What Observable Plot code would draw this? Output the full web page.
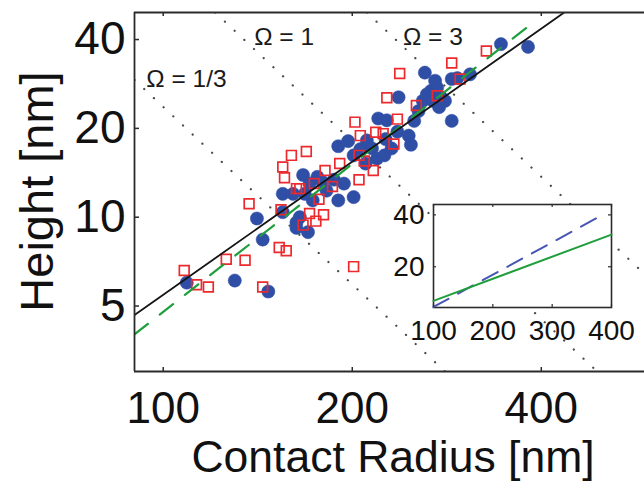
<!DOCTYPE html>
<html><head><meta charset="utf-8">
<script src="https://cdn.jsdelivr.net/npm/d3@7"></script>
<script src="https://cdn.jsdelivr.net/npm/@observablehq/plot@0.6"></script>
<style>
html,body{margin:0;padding:0;background:#fff;overflow:hidden}
#wrap{position:relative;width:644px;height:482px}
#main{position:absolute;left:0;top:0;width:644px}
#inset{position:absolute;left:382px;top:190px;width:243px}
</style></head><body><div id="wrap"><div id="main"></div><div id="inset"></div></div>
<script>
// ---- data ----
const blueR = [109,130,147,141,144,155,155,161,165,163,163,167,168,170,171,173,176,179,182,187,190,194,201,190,197,201,206,211,215,219,220,226,227,231,225,210,237,236,246,248,251,255,259,263,261,267,269,271,273,275,277,281,288,288,294,308,345,381];
const blueH = [6.0,6.1,5.6,9.9,8.4,12.0,10.4,12.0,10.0,9.6,9.2,13.9,12.0,8.9,13.0,11.4,13.7,13.2,12.3,13.4,11.4,13.0,11.7,17.4,18.1,16.2,17.0,18.2,17.1,15.8,21.6,18.4,21.3,17.1,16.2,15.2,25.5,19.5,18.9,17.6,21.2,22.9,24.8,26.1,30.9,26.8,24.8,29.0,27.5,23.6,25.5,24.8,21.2,29.4,29.6,30.5,38.6,37.8];
const redR = [108,113,118,126,135,137,144,153,157,154,201,155,156,160,169,163,165,174,181,186,191,171,175,180,167,177,205,216,205,209,202,206,218,224,233,227,238,236,253,273,288,297,327];
const redH = [6.6,5.9,5.8,7.2,7.15,11.1,5.8,7.9,7.7,10.6,6.8,14.8,13.6,16.2,16.7,12.5,12.5,13.0,14.4,12.7,15.2,10.3,9.7,10.2,9.4,11.5,13.4,14.4,16.2,15.5,21.0,18.9,19.4,19.2,17.7,25.4,30.7,21.5,23.9,25.8,33.3,29.4,36.6];
const xTicks = [100, 200, 400];
const yTicks = [5, 10, 20, 40];
const xDomain = [90, 584];
const yDomain = [3.0, 49.4];
const blackFitR = [90, 435];
const blackFitH = [4.66, 49.4];
const greenFitR = [90, 392];
const greenFitH = [4.01, 46.4];
const omegaNames = ["Ω = 1/3", "Ω = 1", "Ω = 3"];
const omegaLineR = [[90, 281], [121, 491], [211, 584]];
const omegaLineH = [[29.2, 3.0], [49.4, 3.0], [49.4, 6.42]];
const omegaLabelR = [94, 139.6, 240.8];
const omegaLabelH = [29.3, 40.8, 40.9];
const xLabel = "Contact Radius [nm]";
const yLabel = "Height [nm]";
// inset
const insetXTicks = [100, 200, 300, 400];
const insetYTicks = [20, 40];
const insetXDomain = [100, 400];
const insetYDomain = [4.3, 44];
const insetGreenR = [100, 400];
const insetGreenH = [6.85, 32.4];
const insetBlueR = [100, 385];
const insetBlueH = [4.5, 40];

// ---- build ----
const FONT = "'Liberation Sans', Arial, Helvetica, sans-serif";
const blue = blueR.map((r, i) => ({r, h: blueH[i]}));
const red = redR.map((r, i) => ({r, h: redH[i]}));
const seg = (R, H) => R.map((r, i) => ({r, h: H[i]}));
const omegaLabels = omegaNames.map((t, i) => ({t, r: omegaLabelR[i], h: omegaLabelH[i]}));

const W = 644, H = 482, mL = 134, mR = 0, mT = 12, mB = 111;
const innerW = W - mL - mR, innerH = H - mT - mB;
const frameColor = "#2b2b2b";

const main = Plot.plot({
  width: W, height: H,
  marginLeft: mL, marginRight: mR, marginTop: mT, marginBottom: mB,
  style: {fontFamily: FONT, background: "white", color: "#111"},
  x: {type: "log", domain: xDomain},
  y: {type: "log", domain: yDomain},
  marks: [
    ...omegaNames.map((_, i) => Plot.line(seg(omegaLineR[i], omegaLineH[i]), {
      x: "r", y: "h", stroke: "#4a4a4a", strokeWidth: 2.2,
      strokeDasharray: "0.1,13.2", strokeLinecap: "round", clip: true
    })),
    Plot.dot(blue, {x: "r", y: "h", r: 6.6, fill: "#2f4ea6", stroke: "#2f4ea6", strokeWidth: 0.5}),
    Plot.dot(red, {x: "r", y: "h", symbol: "square", r: 5.5, fill: "none", stroke: "#ec2a2e", strokeWidth: 1.7}),
    Plot.line(seg(greenFitR, greenFitH), {x: "r", y: "h", stroke: "#1f9e3c", strokeWidth: 2.2, strokeDasharray: "17,15", clip: true}),
    Plot.line(seg(blackFitR, blackFitH), {x: "r", y: "h", stroke: "#151515", strokeWidth: 1.8, clip: true}),
    Plot.text(omegaLabels, {x: "r", y: "h", text: "t", textAnchor: "start", fontSize: 24.5, fill: "#1a1a1a"}),
    Plot.ruleX([xDomain[0]], {stroke: frameColor, strokeWidth: 1.8}),
    Plot.ruleY([yDomain[0]], {stroke: frameColor, strokeWidth: 1.8}),
    Plot.ruleY([yDomain[1]], {stroke: frameColor, strokeWidth: 1.8}),
    Plot.tickX(xTicks, {x: d => d, insetTop: innerH - 4, stroke: frameColor, strokeWidth: 1.5}),
    Plot.tickX(xTicks, {x: d => d, insetBottom: innerH - 4, stroke: frameColor, strokeWidth: 1.5}),
    Plot.tickY(yTicks, {y: d => d, insetRight: innerW - 5, stroke: frameColor, strokeWidth: 1.5}),
    Plot.axisX({ticks: xTicks, tickFormat: d => String(d), tickSize: 0, tickPadding: 20, fontSize: 44, label: null}),
    Plot.axisY({ticks: yTicks, tickFormat: d => String(d), tickSize: 0, tickPadding: 9, fontSize: 46, label: null})
  ]
});

const svg = d3.select(main);
svg.append("text")
  .attr("x", (mL + W) / 2 + 4).attr("y", 472)
  .attr("text-anchor", "middle").attr("font-size", 44.5).attr("font-family", FONT).attr("fill", "#111")
  .text(xLabel);
svg.append("text")
  .attr("transform", `translate(53,${mT + innerH / 2}) rotate(-90)`)
  .attr("text-anchor", "middle").attr("font-size", 47).attr("font-family", FONT).attr("fill", "#111")
  .text(yLabel);
document.getElementById("main").appendChild(main);

// inset
const iW = 243, iH = 157, imL = 51, imR = 14, imT = 14, imB = 40;
const iInnerW = iW - imL - imR, iInnerH = iH - imT - imB;
const inset = Plot.plot({
  width: iW, height: iH,
  marginLeft: imL, marginRight: imR, marginTop: imT, marginBottom: imB,
  style: {fontFamily: FONT, background: "transparent", color: "#111", overflow: "visible"},
  x: {domain: insetXDomain},
  y: {domain: insetYDomain},
  marks: [
    Plot.frame({fill: "white", stroke: frameColor, strokeWidth: 1.6}),
    Plot.line(seg(insetBlueR, insetBlueH), {x: "r", y: "h", stroke: "#4756b4", strokeWidth: 2, strokeDasharray: "17,11"}),
    Plot.line(seg(insetGreenR, insetGreenH), {x: "r", y: "h", stroke: "#1f9e3c", strokeWidth: 2}),
    Plot.tickX(insetXTicks, {x: d => d, insetTop: iInnerH - 3, stroke: frameColor, strokeWidth: 1.2}),
    Plot.tickX(insetXTicks, {x: d => d, insetBottom: iInnerH - 3, stroke: frameColor, strokeWidth: 1.2}),
    Plot.tickY(insetYTicks, {y: d => d, insetRight: iInnerW - 3, stroke: frameColor, strokeWidth: 1.2}),
    Plot.tickY(insetYTicks, {y: d => d, insetLeft: iInnerW - 3, stroke: frameColor, strokeWidth: 1.2}),
    Plot.axisX({ticks: insetXTicks, tickFormat: d => String(d), tickSize: 0, tickPadding: 13, fontSize: 28, label: null}),
    Plot.axisY({ticks: insetYTicks, tickFormat: d => String(d), tickSize: 0, tickPadding: 9, fontSize: 28, label: null})
  ]
});
document.getElementById("inset").appendChild(inset);
</script>
</body></html>
